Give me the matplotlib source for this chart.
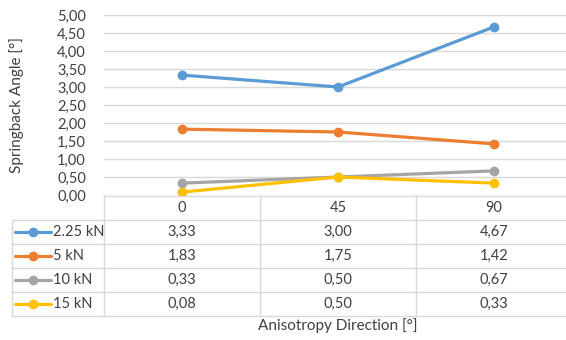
import matplotlib
matplotlib.use("Agg")
import matplotlib.pyplot as plt

plt.rcParams['font.family'] = ['Lato', 'DejaVu Sans']

directions = ["0", "45", "90"]
series_names = ["2.25 kN", "5 kN", "10 kN", "15 kN"]
s_225 = [3.33, 3.00, 4.67]
s_5 = [1.83, 1.75, 1.42]
s_10 = [0.33, 0.50, 0.67]
s_15 = [0.08, 0.50, 0.33]
yticks = [0, 0.5, 1.0, 1.5, 2.0, 2.5, 3.0, 3.5, 4.0, 4.5, 5.0]
colors = ["#5B9BD5", "#ED7D31", "#A5A5A5", "#FFC000"]
series = [s_225, s_5, s_10, s_15]

W, H = 566, 340
fig = plt.figure(figsize=(W / 100, H / 100), dpi=100)

def fx(px):
    return px / W

def fy(py):
    return (H - py) / H

txtc = '#404040'
ax_l, ax_r, ax_t, ax_b = 104, 572, 15, 195
ax = fig.add_axes([fx(ax_l), fy(ax_b), (ax_r - ax_l) / W, (ax_b - ax_t) / H])
xs = list(range(len(directions)))
for vals, c in zip(series, colors):
    ax.plot(xs, vals, color=c, lw=2.3, marker='o', ms=6, solid_capstyle='round', zorder=3)
ax.set_xlim(-0.5, 2.5)
ax.set_ylim(0, 5)
ax.set_yticks(yticks)
ax.set_yticklabels([f"{v:.2f}".replace('.', ',') for v in yticks], fontsize=10.5, color=txtc)
ax.set_xticks([])
ax.grid(axis='y', color='#d9d9d9', lw=1)
ax.set_axisbelow(True)
for s in ax.spines.values():
    s.set_visible(False)
ax.tick_params(axis='y', length=0, pad=13)

# table
unit = (ax_r - ax_l) / 3.0
tl, tr, tt, tb = 12, 572, 196, 316
tax = fig.add_axes([fx(tl), fy(tb), (tr - tl) / W, (tb - tt) / H])
xL = -0.5 - (ax_l - tl) / unit
tax.set_xlim(xL, 2.5)
tax.set_ylim(5, 0)
tax.axis('off')
gc = '#d9d9d9'
tax.plot([-0.5, 2.5], [0, 0], color=gc, lw=1, clip_on=False)
for r in range(1, 6):
    tax.plot([xL, 2.5], [r, r], color=gc, lw=1, clip_on=False)
tax.plot([xL, xL], [1, 5], color=gc, lw=1, clip_on=False)
for xv in [-0.5, 0.5, 1.5]:
    tax.plot([xv, xv], [0, 5], color=gc, lw=1, clip_on=False)
for i, d in enumerate(directions):
    tax.text(i, 0.5, d, ha='center', va='center', fontsize=10.5, color=txtc)
for r, (name, vals, c) in enumerate(zip(series_names, series, colors)):
    yy = r + 1.5
    for i, v in enumerate(vals):
        tax.text(i, yy, f"{v:.2f}".replace('.', ','), ha='center', va='center', fontsize=10.5, color=txtc)
    x0 = -0.5 + (15 - ax_l) / unit
    x1 = -0.5 + (51 - ax_l) / unit
    xm = -0.5 + (33 - ax_l) / unit
    tax.plot([x0, x1], [yy, yy], color=c, lw=2.3, solid_capstyle='round', clip_on=False)
    tax.plot([xm], [yy], color=c, marker='o', ms=6, clip_on=False)
    tax.text(-0.5 + (53 - ax_l) / unit, yy, name, ha='left', va='center', fontsize=10.5, color=txtc)

fig.text(fx(338), fy(326), "Anisotropy Direction [°]", ha='center', va='center', fontsize=11, color=txtc)
fig.text(fx(17), fy(105), "Springback Angle [°]", ha='center', va='center', rotation=90, fontsize=11, color=txtc)

fig.savefig("out.png", dpi=100)
